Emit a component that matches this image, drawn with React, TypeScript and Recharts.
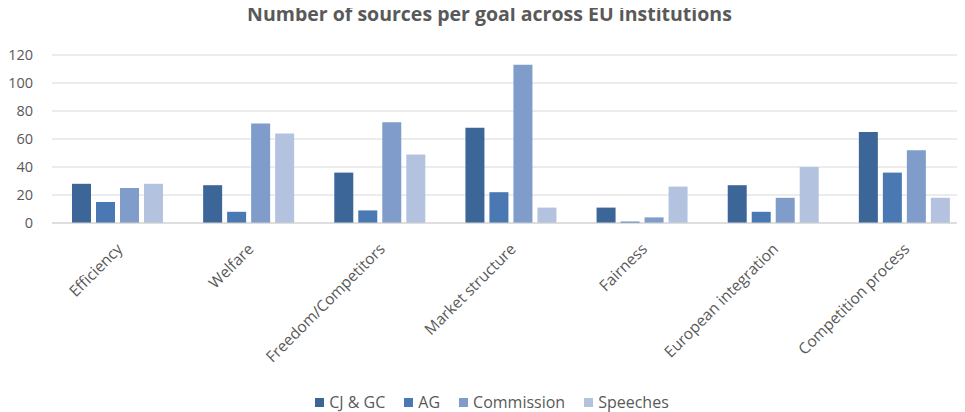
import React from "react";
import { BarChart, Bar, XAxis, YAxis, CartesianGrid, Legend } from "recharts";

const categories = [
  "Efficiency",
  "Welfare",
  "Freedom/Competitors",
  "Market structure",
  "Fairness",
  "European integration",
  "Competition process",
];
const cjgc = [28, 27, 36, 68, 11, 27, 65];
const ag = [15, 8, 9, 22, 1, 8, 36];
const commission = [25, 71, 72, 113, 4, 18, 52];
const speeches = [28, 64, 49, 11, 26, 40, 18];
const yTicks = [0, 20, 40, 60, 80, 100, 120];

const seriesNames = ["CJ & GC", "AG", "Commission", "Speeches"];
const seriesKeys = ["cjgc", "ag", "commission", "speeches"];
const seriesColors = ["#3d6698", "#4a78b2", "#7f9cca", "#b3c3df"];

const data = categories.map((name, i) => ({
  name,
  cjgc: cjgc[i],
  ag: ag[i],
  commission: commission[i],
  speeches: speeches[i],
}));

const FONT = "'Open Sans', sans-serif";
const TEXT = "#595959";

const XTick = (props: any) => {
  const { x, y, payload } = props;
  return (
    <g transform={`translate(${x + 6},${y + 19})`}>
      <text
        x={0}
        y={0}
        textAnchor="end"
        fill={TEXT}
        fontSize={15.5}
        fontFamily={FONT}
        transform="rotate(-45)"
      >
        {payload.value}
      </text>
    </g>
  );
};

const LegendContent = () => {
  return (
    <div
      style={{
        display: "flex",
        justifyContent: "center",
        alignItems: "center",
        fontFamily: FONT,
        fontSize: 16,
        color: TEXT,
        height: 20,
        paddingLeft: 6,
      }}
    >
      {seriesNames.map((name, i) => (
        <div
          key={name}
          style={{ display: "flex", alignItems: "center", marginRight: i < 3 ? 19 : 0 }}
        >
          <span
            style={{
              display: "inline-block",
              width: 9,
              height: 9,
              background: seriesColors[i],
              marginRight: 5,
            }}
          />
          <span>{name}</span>
        </div>
      ))}
    </div>
  );
};

export default function App() {
  return (
    <div style={{ marginTop: -8, position: "relative", width: 957, height: 412 }}>
      <div
        style={{
          position: "absolute",
          top: 2,
          left: 0,
          width: 957,
          textAlign: "center",
          fontFamily: FONT,
          fontWeight: 700,
          fontSize: 19.5,
          color: TEXT,
          lineHeight: "24px",
          pointerEvents: "none",
          zIndex: 1,
        }}
      >
        <span style={{ position: "relative", left: 3 }}>
          Number of sources per goal across EU institutions
        </span>
      </div>
      <div
        style={{
          position: "absolute",
          top: 8,
          left: 0,
          width: 957,
          height: 404,
          overflow: "hidden",
        }}
      >
        <BarChart
          width={962}
          height={404}
          data={data}
          margin={{ top: 47, right: 0, left: 0, bottom: 0 }}
          barSize={19}
          barGap={5}
        >
          <CartesianGrid vertical={false} stroke="#d9d9d9" strokeWidth={1} />
          <XAxis
            dataKey="name"
            interval={0}
            tick={<XTick />}
            tickLine={false}
            axisLine={{ stroke: "#d0d0d0" }}
            height={169}
          />
          <YAxis
            width={44}
            domain={[0, 120]}
            ticks={yTicks}
            interval={0}
            axisLine={false}
            tickLine={false}
            tickSize={0}
            tickMargin={19}
            tick={{ fill: TEXT, fontSize: 14.5, fontFamily: FONT }}
          />
          <Legend verticalAlign="bottom" height={20} content={<LegendContent />} />
          {seriesKeys.map((k, i) => (
            <Bar
              key={k}
              dataKey={k}
              name={seriesNames[i]}
              fill={seriesColors[i]}
              isAnimationActive={false}
            />
          ))}
        </BarChart>
      </div>
    </div>
  );
}
